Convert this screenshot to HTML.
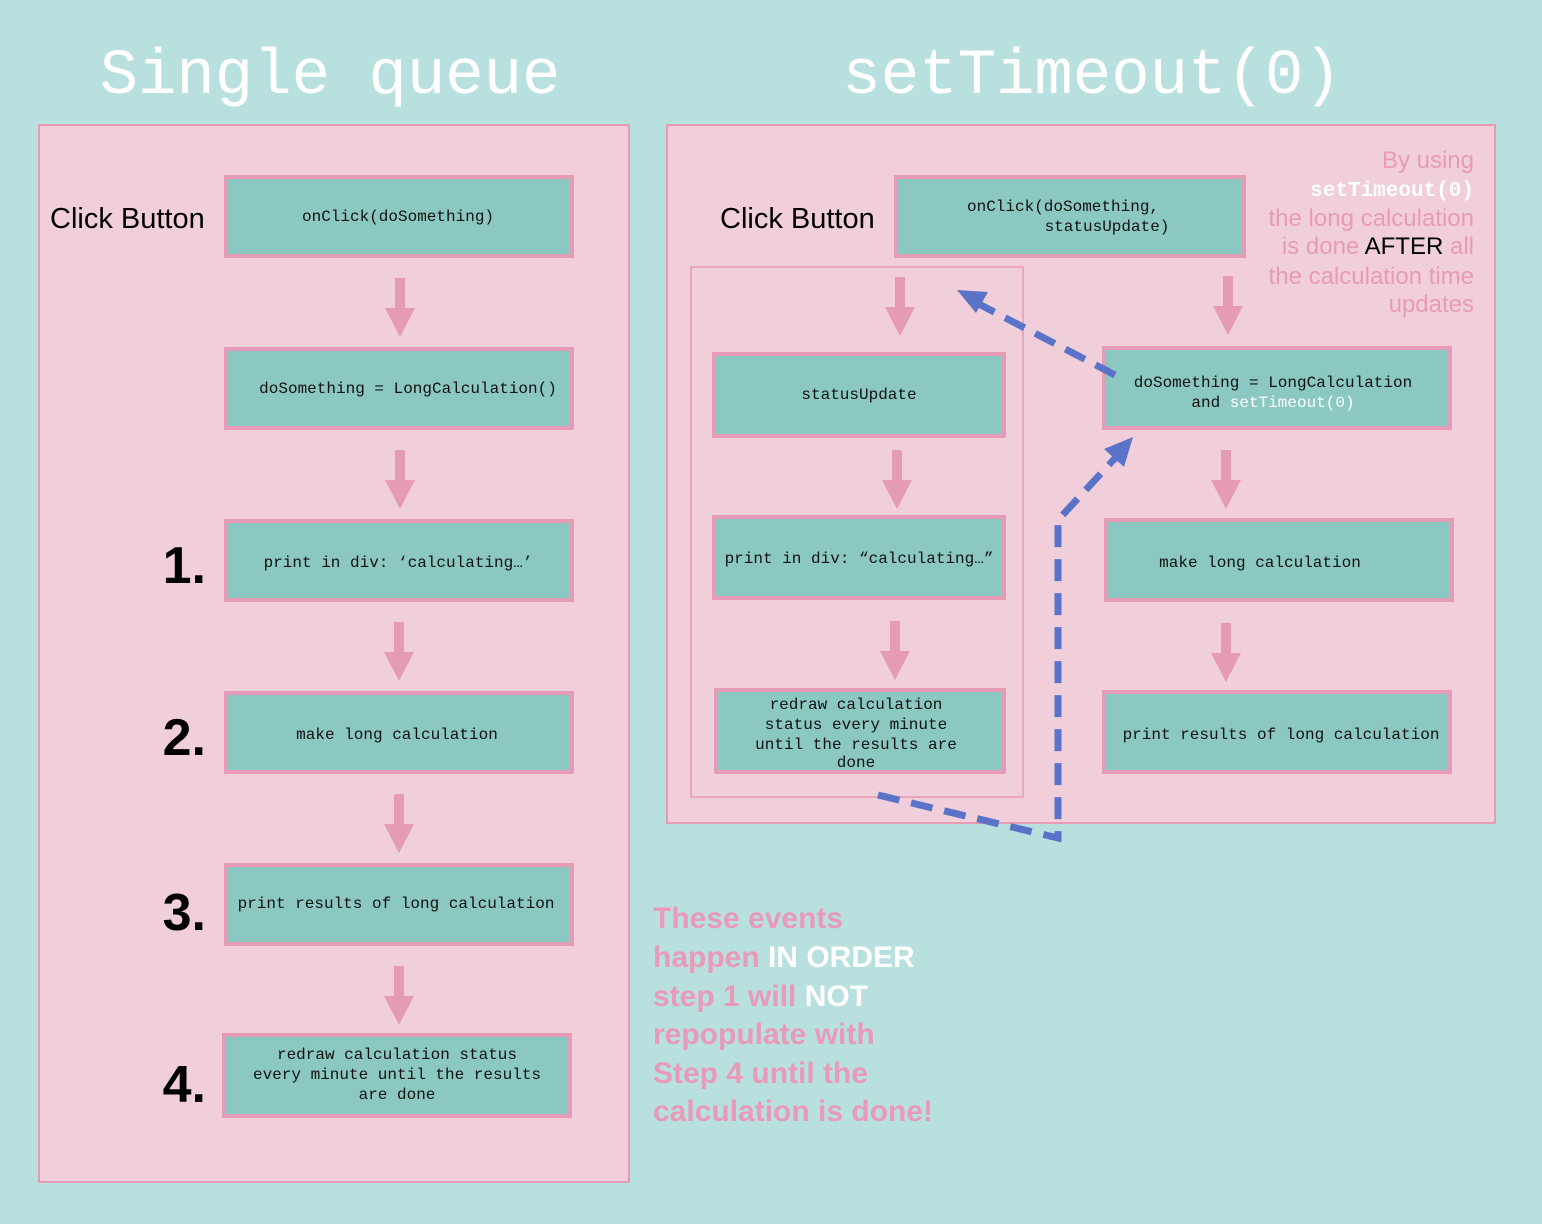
<!DOCTYPE html>
<html><head><meta charset="utf-8"><style>
body{margin:0;background:#b8e0de;}
svg{display:block}
.m{font-family:"Liberation Mono",monospace;font-size:16px;fill:#111;}
.s{font-family:"Liberation Sans",sans-serif;}
</style></head><body>
<svg width="1542" height="1224" xmlns="http://www.w3.org/2000/svg">
<rect width="1542" height="1224" fill="#b8e0de"/>
<text x="330" y="93" text-anchor="middle" font-family="Liberation Mono,monospace" font-size="64" fill="#fff">Single queue</text>
<text x="1092" y="93" text-anchor="middle" font-family="Liberation Mono,monospace" font-size="64" fill="#fff">setTimeout(0)</text>
<rect x="39" y="125" width="590" height="1057" fill="#f0cfda" stroke="#e59ab5" stroke-width="2"/>
<rect x="667" y="125" width="828" height="698" fill="#f0cfda" stroke="#e59ab5" stroke-width="2"/>
<rect x="691" y="267" width="332" height="530" fill="none" stroke="#e59ab5" stroke-width="1.5"/>
<g fill="#8bc8c2" stroke="#e59ab5" stroke-width="4">
<rect x="226" y="177" width="346" height="79"/>
<rect x="226" y="349" width="346" height="79"/>
<rect x="226" y="521" width="346" height="79"/>
<rect x="226" y="693" width="346" height="79"/>
<rect x="226" y="865" width="346" height="79"/>
<rect x="224" y="1035" width="346" height="81"/>
<rect x="896" y="177" width="348" height="79"/>
<rect x="714" y="354" width="290" height="82"/>
<rect x="714" y="517" width="290" height="81"/>
<rect x="716" y="690" width="288" height="82"/>
<rect x="1104" y="348" width="346" height="80"/>
<rect x="1106" y="520" width="346" height="80"/>
<rect x="1104" y="692" width="346" height="80"/>
</g>
<g fill="#e59ab5">
<defs><g id="ar"><rect x="-5" y="0" width="10" height="32"/><polygon points="-15,30 15,30 0,59"/></g></defs>
<use href="#ar" x="400" y="278"/><use href="#ar" x="400" y="450"/><use href="#ar" x="399" y="622"/><use href="#ar" x="399" y="794"/><use href="#ar" x="399" y="966"/>
<use href="#ar" x="900" y="277"/><use href="#ar" x="897" y="450"/><use href="#ar" x="895" y="621"/>
<use href="#ar" x="1228" y="276"/><use href="#ar" x="1226" y="450"/><use href="#ar" x="1226" y="623"/>
</g>
<g stroke="#5a73c8" stroke-width="7" fill="none" stroke-dasharray="22,12">
<line x1="1115" y1="375" x2="975" y2="302"/>
<polyline points="878,795 1058,838 1058,520 1118,455"/>
</g>
<g fill="#5a73c8">
<polygon points="957,290 988,292 976,313"/>
<polygon points="1133,437 1124,467 1104,449"/>
</g>
<g class="s" font-size="29" fill="#000">
<text x="50" y="228">Click Button</text>
<text x="720" y="228">Click Button</text>
</g>
<g class="s" font-size="52" font-weight="bold" fill="#000" text-anchor="end">
<text x="206" y="583">1.</text><text x="206" y="755">2.</text><text x="206" y="930">3.</text><text x="206" y="1102">4.</text>
</g>
<g class="m" text-anchor="middle">
<text x="398" y="221">onClick(doSomething)</text>
<text x="408" y="393">doSomething = LongCalculation()</text>
<text x="398" y="567">print in div: ‘calculating…’</text>
<text x="397" y="739">make long calculation</text>
<text x="396" y="908">print results of long calculation</text>
<text x="397" y="1059">redraw calculation status</text>
<text x="397" y="1079">every minute until the results</text>
<text x="397" y="1099">are done</text>
<text x="1063" y="211">onClick(doSomething,</text>
<text x="1107" y="231">statusUpdate)</text>
<text x="859" y="399">statusUpdate</text>
<text x="859" y="563">print in div: “calculating…”</text>
<text x="856" y="709">redraw calculation</text>
<text x="856" y="729">status every minute</text>
<text x="856" y="749">until the results are</text>
<text x="856" y="767">done</text>
<text x="1273" y="387">doSomething = LongCalculation</text>
<text x="1273" y="407">and <tspan fill="#fff">setTimeout(0)</tspan></text>
<text x="1260" y="567">make long calculation</text>
<text x="1281" y="739">print results of long calculation</text>
</g>
<g class="s" font-size="24" fill="#e89ab8" text-anchor="end">
<text x="1474" y="168">By using</text>
<text x="1474" y="196" font-family="Liberation Mono,monospace" font-weight="bold" font-size="21" fill="#fff">setTimeout(0)</text>
<text x="1474" y="226">the long calculation</text>
<text x="1474" y="254">is done <tspan fill="#000">AFTER</tspan> all</text>
<text x="1474" y="284">the calculation time</text>
<text x="1474" y="312">updates</text>
</g>
<g class="s" font-size="30" font-weight="bold" fill="#e89ab8">
<text x="653" y="928">These events</text>
<text x="653" y="967">happen <tspan fill="#fff">IN ORDER</tspan></text>
<text x="653" y="1006">step 1 will <tspan fill="#fff">NOT</tspan></text>
<text x="653" y="1044">repopulate with</text>
<text x="653" y="1083">Step 4 until the</text>
<text x="653" y="1121">calculation is done!</text>
</g>
</svg>
</body></html>
